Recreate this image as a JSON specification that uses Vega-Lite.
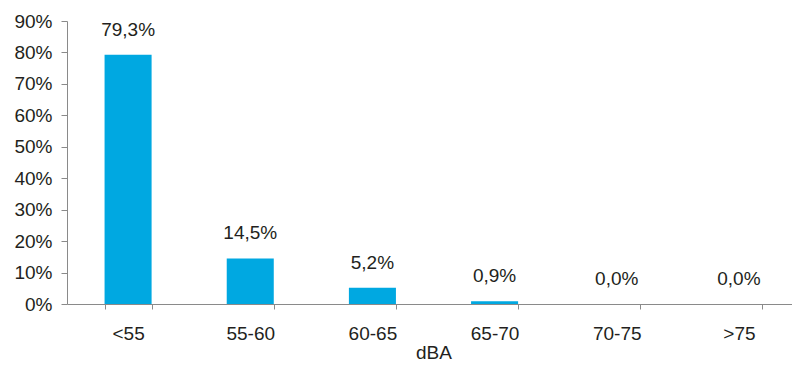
{
  "$schema": "https://vega.github.io/schema/vega-lite/v6.json",
  "width": 733,
  "height": 283,
  "autosize": {"type": "none"},
  "padding": {"left": 67, "top": 21, "right": 0, "bottom": 61},
  "background": "white",
  "config": {
    "locale": {"number": {"decimal": ",", "thousands": ".", "grouping": [3], "currency": ["", " €"]}},
    "view": {"stroke": null},
    "font": "Liberation Sans"
  },
  "data": {
    "values": [
      {"dba": "<55", "share": 0.793},
      {"dba": "55-60", "share": 0.145},
      {"dba": "60-65", "share": 0.052},
      {"dba": "65-70", "share": 0.009},
      {"dba": "70-75", "share": 0.0},
      {"dba": ">75", "share": 0.0}
    ]
  },
  "encoding": {
    "x": {
      "field": "dba", "type": "nominal", "sort": null,
      "scale": {"paddingInner": 0.615, "paddingOuter": 0.3075},
      "axis": {
        "title": "dBA", "titleFont": "Liberation Sans", "titleFontSize": 19, "titleFontWeight": "normal",
        "titleColor": "#231f20", "titlePadding": 0,
        "labelAngle": 0, "labelFontSize": 19, "labelColor": "#231f20", "labelPadding": 15,
        "domainColor": "#8a8a8a", "tickColor": "#8a8a8a", "tickSize": 5, "tickBand": "extent",
        "grid": false
      }
    },
    "y": {
      "field": "share", "type": "quantitative",
      "scale": {"domain": [0, 0.9], "nice": false},
      "axis": {
        "title": null, "format": ".0%", "values": [0, 0.1, 0.2, 0.3, 0.4, 0.5, 0.6, 0.7, 0.8, 0.9],
        "labelFontSize": 19, "labelColor": "#231f20", "labelPadding": 9,
        "domainColor": "#8a8a8a", "tickColor": "#8a8a8a", "tickSize": 6, "grid": false
      }
    }
  },
  "layer": [
    {"mark": {"type": "bar", "color": "#00a8e1"}},
    {
      "mark": {"type": "text", "fontSize": 19, "color": "#231f20", "baseline": "alphabetic", "dy": -19},
      "encoding": {"text": {"field": "share", "type": "quantitative", "format": ".1%"}}
    }
  ]
}
